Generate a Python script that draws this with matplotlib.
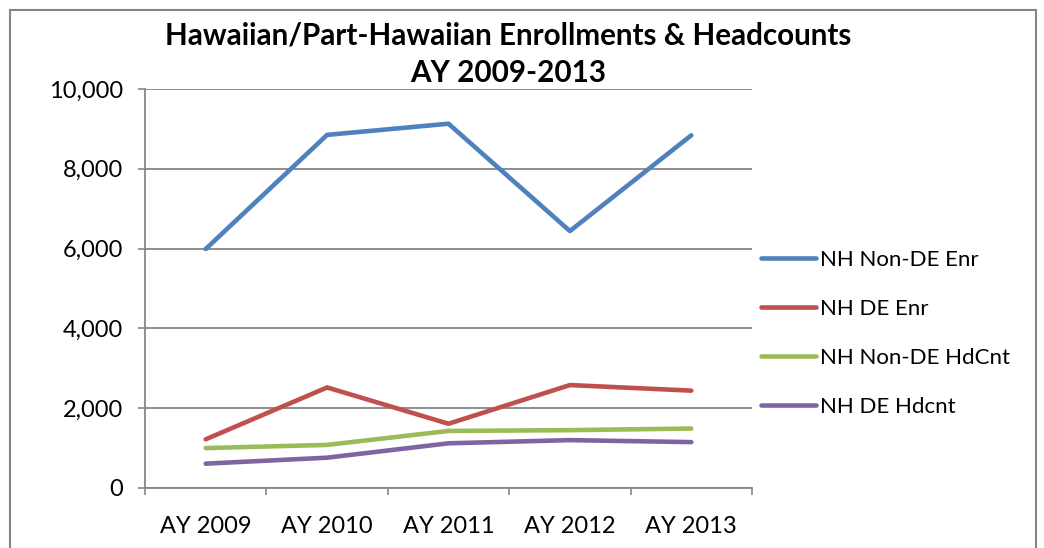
import matplotlib
matplotlib.use("Agg")
import matplotlib.pyplot as plt
from matplotlib.patches import Rectangle
from matplotlib.ticker import FuncFormatter, FixedLocator

years = ["AY 2009", "AY 2010", "AY 2011", "AY 2012", "AY 2013"]
non_de_enr = [5990, 8850, 9130, 6440, 8840]
de_enr = [1220, 2520, 1610, 2580, 2440]
non_de_hdcnt = [1000, 1080, 1430, 1450, 1490]
de_hdcnt = [610, 760, 1120, 1200, 1150]

labels = ["NH Non-DE Enr", "NH DE Enr", "NH Non-DE HdCnt", "NH DE Hdcnt"]
colours = ["#4F81BD", "#C0504D", "#9BBB59", "#8064A2"]

plt.rcParams["font.family"] = ["Lato", "DejaVu Sans"]

fig = plt.figure(figsize=(10.44, 5.48), dpi=100)
ax = fig.add_axes([145 / 1044, 1 - 488 / 548, 607 / 1044, 399 / 548])

x = range(len(years))
for ys, lbl, c in zip([non_de_enr, de_enr, non_de_hdcnt, de_hdcnt], labels, colours):
    ax.plot(x, ys, color=c, lw=3.3, label=lbl, solid_capstyle="round")

ax.set_xlim(-0.5, len(years) - 0.5)
ax.set_ylim(0, 10000)
ax.set_yticks(range(0, 10001, 2000))
ax.yaxis.set_major_formatter(FuncFormatter(lambda v, p: f"{int(v):,}"))
ax.set_xticks(list(x))
ax.set_xticklabels(years)
ax.xaxis.set_minor_locator(FixedLocator([i - 0.5 for i in range(len(years) + 1)]))
ax.tick_params(axis="x", which="major", length=0, pad=20, labelsize=17)
ax.tick_params(axis="x", which="minor", length=5, width=1.2, color="#868686")
ax.tick_params(axis="y", length=5, width=1.2, color="#868686", labelsize=17, pad=11)

ax.grid(axis="y", color="#868686", lw=1.3)
ax.set_axisbelow(True)
for side in ["top", "right"]:
    ax.spines[side].set_visible(False)
for side in ["left", "bottom"]:
    ax.spines[side].set_color("#868686")
    ax.spines[side].set_linewidth(1.3)

ax.legend(loc="upper left", bbox_to_anchor=(752 / 1044, 1 - 241 / 548),
          bbox_transform=fig.transFigure, frameon=False, fontsize=16,
          handlelength=2.5, handletextpad=0.15, labelspacing=1.3,
          borderaxespad=0)

fig.text(508 / 1044, 1 - 36 / 548, "Hawaiian/Part-Hawaiian Enrollments & Headcounts",
         ha="center", va="center", fontsize=21.3, fontweight="bold")
fig.text(508 / 1044, 1 - 73 / 548, "AY 2009-2013",
         ha="center", va="center", fontsize=21.3, fontweight="bold")

fig.patches.append(Rectangle((10 / 1044, -0.05), 1026 / 1044, 1.05 - 10 / 548,
                             transform=fig.transFigure, fill=False,
                             edgecolor="#868686", lw=1.5))

fig.savefig("out.png", dpi=100)
